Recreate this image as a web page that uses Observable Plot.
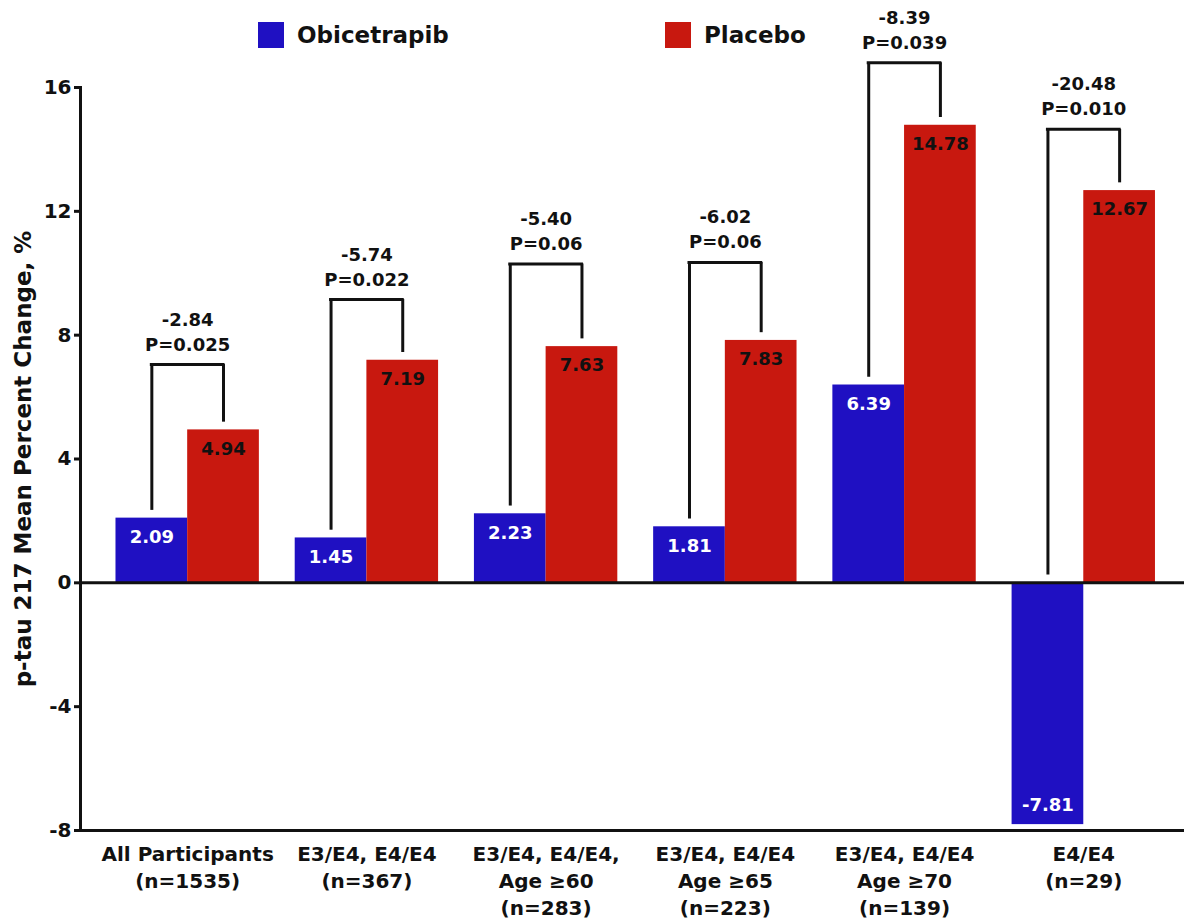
<!DOCTYPE html>
<html>
<head>
<meta charset="utf-8">
<script src="https://cdn.jsdelivr.net/npm/d3@7"></script>
<script src="https://cdn.jsdelivr.net/npm/@observablehq/plot@0.6"></script>
<style>
  body { margin: 0; background: #fff; }
  #wrap { position: relative; width: 1184px; height: 919px; font-family: "DejaVu Sans", sans-serif; font-weight: bold; }
  #legend { position: absolute; left: 258px; top: 22px; display: flex; z-index: 1; }
  .item { display: flex; align-items: center; gap: 13px; font-size: 23px; color: #111; line-height: 26px; }
  .sw { width: 26px; height: 26px; flex: none; }
</style>
</head>
<body>
<div id="wrap"><div id="legend"></div></div>
<script>
// Subgroups on the x axis (line breaks split the tick labels)
const groups = [
  "All Participants\n(n=1535)",
  "E3/E4, E4/E4\n(n=367)",
  "E3/E4, E4/E4,\nAge ≥60\n(n=283)",
  "E3/E4, E4/E4\nAge ≥65\n(n=223)",
  "E3/E4, E4/E4\nAge ≥70\n(n=139)",
  "E4/E4\n(n=29)"
];
// Mean percent change in p-tau 217 per arm
const obicetrapib = [2.09, 1.45, 2.23, 1.81, 6.39, -7.81];
const placebo = [4.94, 7.19, 7.63, 7.83, 14.78, 12.67];
// Treatment difference and p-value shown over each bracket
const differences = ["-2.84", "-5.74", "-5.40", "-6.02", "-8.39", "-20.48"];
const pValues = ["P=0.025", "P=0.022", "P=0.06", "P=0.06", "P=0.039", "P=0.010"];
// Level (in % units) of the horizontal bar of each comparison bracket
const bracketLevels = [7.05, 9.15, 10.3, 10.35, 16.8, 14.65];
// Series and y ticks
const seriesNames = ["Obicetrapib", "Placebo"];
const seriesColors = ["#1f10c2", "#c8180f"];
const yTicks = [-8, -4, 0, 4, 8, 12, 16];

const rows = groups.map((group, i) => ({
  group,
  obi: obicetrapib[i],
  pla: placebo[i],
  diff: differences[i],
  p: pValues[i],
  top: bracketLevels[i]
}));

// Layout
const W = 1184, H = 919;
const mL = 80, mR = 0, mT = 87, mB = 89;
const padIn = 0.2, padOut = 0.18;
const step = (W - mL - mR) / (groups.length - padIn + 2 * padOut);
const barW = step * (1 - padIn) / 2;      // width of one bar inside a group band
const legGap = 0.25;

const ink = "#111";

const chart = Plot.plot({
  width: W,
  height: H,
  marginLeft: mL,
  marginRight: mR,
  marginTop: mT,
  marginBottom: mB,
  style: { fontFamily: "DejaVu Sans, sans-serif", fontWeight: "bold", fontSize: "20px", color: ink, background: "transparent" },
  x: { type: "band", domain: groups, paddingInner: padIn, paddingOuter: padOut, align: 0.55, round: false, label: null },
  y: { domain: [-8, 16], label: null },
  marks: [
    // bars
    Plot.barY(rows, { x: "group", y: "obi", fill: seriesColors[0], insetRight: barW }),
    Plot.barY(rows, { x: "group", y: "pla", fill: seriesColors[1], insetLeft: barW }),
    // value labels inside bars
    Plot.text(rows.filter(d => d.obi >= 0), { x: "group", y: "obi", text: d => d.obi.toFixed(2), dx: -barW / 2, dy: 19, fill: "white", fontSize: 18 }),
    Plot.text(rows.filter(d => d.obi < 0), { x: "group", y: "obi", text: d => d.obi.toFixed(2), dx: -barW / 2, dy: -19, fill: "white", fontSize: 18 }),
    Plot.text(rows, { x: "group", y: "pla", text: d => d.pla.toFixed(2), dx: barW / 2, dy: 19, fill: ink, fontSize: 18 }),
    // comparison brackets
    Plot.ruleX(rows, { x: "group", y1: d => Math.max(d.obi, 0) + legGap, y2: "top", dx: -barW / 2, stroke: ink, strokeWidth: 3 }),
    Plot.ruleX(rows, { x: "group", y1: d => d.pla + legGap, y2: "top", dx: barW / 2, stroke: ink, strokeWidth: 3 }),
    Plot.tickY(rows, { x: "group", y: "top", insetLeft: barW / 2 - 1.5, insetRight: barW / 2 - 1.5, stroke: ink, strokeWidth: 3 }),
    Plot.text(rows, { x: "group", y: "top", text: d => d.diff + "\n" + d.p, lineAnchor: "bottom", lineHeight: 1.39, dy: -14, fill: ink, fontSize: 18 }),
    // axes
    Plot.axisY({ ticks: yTicks, tickFormat: d => String(d), tickSize: 6, tickPadding: 3, strokeWidth: 3, fontSize: 20, label: null }),
    Plot.axisX({ tickSize: 0, tickPadding: 11, fontSize: 20, lineHeight: 1.35, label: null }),
    Plot.text(["p-tau 217 Mean Percent Change, %"], { frameAnchor: "left", textAnchor: "middle", rotate: -90, dx: -57, fontSize: 23, fill: ink }),
    Plot.frame({ anchor: "left", strokeWidth: 3, stroke: ink }),
    Plot.frame({ anchor: "bottom", strokeWidth: 3, stroke: ink }),
    Plot.ruleY([0], { strokeWidth: 3, stroke: ink })
  ]
});

document.getElementById("wrap").appendChild(chart);

// Legend drawn over the top of the plot area
const legend = document.getElementById("legend");
seriesNames.forEach((name, i) => {
  const item = document.createElement("div");
  item.className = "item";
  if (i === 0) item.style.width = "407px";
  const sw = document.createElement("div");
  sw.className = "sw";
  sw.style.background = seriesColors[i];
  const label = document.createElement("span");
  label.textContent = name;
  item.appendChild(sw);
  item.appendChild(label);
  legend.appendChild(item);
});
</script>
</body>
</html>
